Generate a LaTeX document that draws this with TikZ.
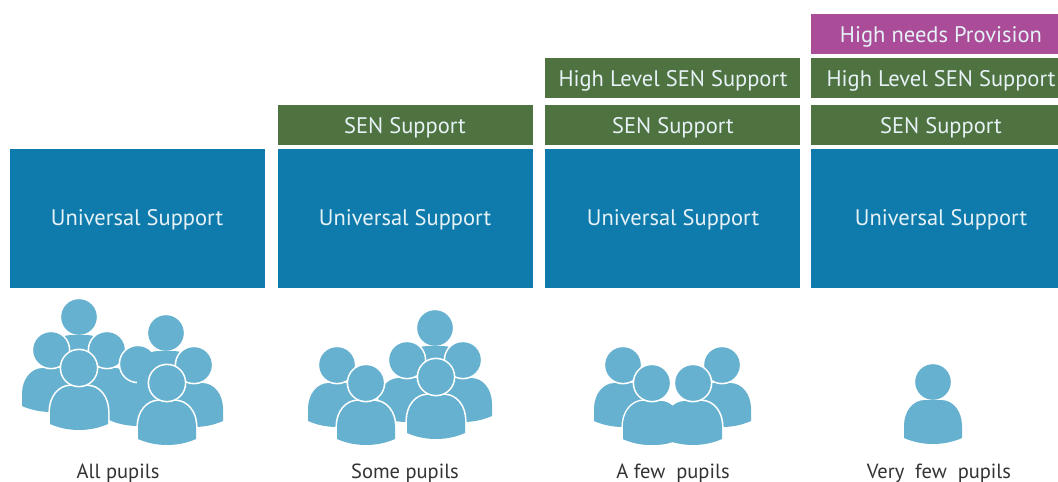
\documentclass[tikz,border=0pt]{standalone}
\usepackage{fontspec}
\setmainfont{PT Sans}
\definecolor{uniblue}{HTML}{0F7BAD}
\definecolor{sengreen}{HTML}{4E7340}
\definecolor{needpurple}{HTML}{AA4C97}
\definecolor{pupilblue}{HTML}{66B1CF}
\definecolor{labelgrey}{HTML}{333333}
\newcommand{\bodypath}[2]{(#1-29,#2+56) -- (#1-29,#2+44)
    .. controls (#1-29,#2+29) and (#1-20,#2+18) .. (#1-8,#2+18)
    -- (#1+8,#2+18)
    .. controls (#1+20,#2+18) and (#1+29,#2+29) .. (#1+29,#2+44)
    -- (#1+29,#2+56)
    .. controls (#1+11,#2+64) and (#1-11,#2+64) .. (#1-29,#2+56) -- cycle}
% plain fill
\newcommand{\pbody}[2]{\fill[pupilfill] \bodypath{#1}{#2};}
\newcommand{\phead}[2]{\fill[pupilfill] (#1,#2) circle[radius=17.8];}
% white ring, then fill
\newcommand{\cbody}[2]{\draw[ring] \bodypath{#1}{#2};\pbody{#1}{#2}}
\newcommand{\chead}[2]{\draw[ring] (#1,#2) circle[radius=17.8];\phead{#1}{#2}}
\newcommand{\pupil}[2]{\pbody{#1}{#2}\phead{#1}{#2}}
\newcommand{\pupilcut}[2]{\cbody{#1}{#2}\chead{#1}{#2}}
\tikzset{
  x=1pt,y=-1pt,
  pupilfill/.style={fill=pupilblue},
  ring/.style={draw=white,line width=3.2pt},
  bandtext/.style={text=white!90!uniblue,font=\fontsize{22.5}{26}\selectfont},
  band/.style={minimum width=255pt,inner sep=0pt},
  unibox/.style={band,fill=uniblue,minimum height=139pt},
  senbox/.style={band,fill=sengreen,minimum height=40pt},
  needbox/.style={band,fill=needpurple,minimum height=40pt},
  lab/.style={bandtext,inner sep=0pt,anchor=base},
  caption/.style={text=labelgrey,inner sep=0pt,anchor=base,font=\fontsize{20.5}{24}\selectfont}
}
\begin{document}
\begin{tikzpicture}
\useasboundingbox (0,0) rectangle (1058,482);
% universal boxes
\node[unibox] (u1) at (137.5,218.5) {};
\node[unibox] (u2) at (405.5,218.5) {};
\node[unibox] (u3) at (672.5,218.5) {};
\node[unibox] (u4) at (938.5,218.5) {};
\node[lab] (u1t) at (137,225) {Universal Support};
\node[lab] (u2t) at (405,225) {Universal Support};
\node[lab] (u3t) at (673,225) {Universal Support};
\node[lab] (u4t) at (941,225) {Universal Support};
% SEN support
\node[senbox] (s2) at (405.5,124.5) {};
\node[senbox] (s3) at (672.5,124.5) {};
\node[senbox] (s4) at (938.5,124.5) {};
\node[lab] (s2t) at (405,133) {SEN Support};
\node[lab] (s3t) at (673,133) {SEN Support};
\node[lab] (s4t) at (941,133) {SEN Support};
% high level
\node[senbox] (h3) at (672.5,78) {};
\node[senbox] (h4) at (938.5,78) {};
\node[lab] (h3t) at (673,86) {High Level SEN Support};
\node[lab] (h4t) at (941,86) {High Level SEN Support};
% high needs
\node[needbox] (n4) at (938.5,34) {};
\node[lab] (n4t) at (941,42) {High needs Provision};
% group 1
\pupil{79}{317}
\pupilcut{51}{350}
\cbody{107}{350}
\pbody{138}{364}
\chead{107}{350}
\chead{138}{364}
\pupilcut{79}{368}
\pupil{166}{333}
\pupilcut{194}{365}
\pupilcut{167}{383}
% group 2
\pupilcut{337}{365}
\pupil{435}{328}
\pupilcut{407}{360}
\pupilcut{463}{360}
\pupilcut{366}{383}
\pupilcut{436}{377}
% group 3
\pupilcut{623}{365}
\pupilcut{722}{365}
\cbody{652}{383}
\cbody{693}{383}
\pbody{652}{383}
\chead{652}{383}
\chead{693}{383}
% group 4
\pupil{933}{382}
% captions
\node[caption] (c1) at (118,478) {All pupils};
\node[caption] (c2) at (405,478) {Some pupils};
\node[caption] (c3) at (673,478) {A few~~pupils};
\node[caption] (c4) at (939,478) {Very~~few~~pupils};
\end{tikzpicture}
\end{document}
